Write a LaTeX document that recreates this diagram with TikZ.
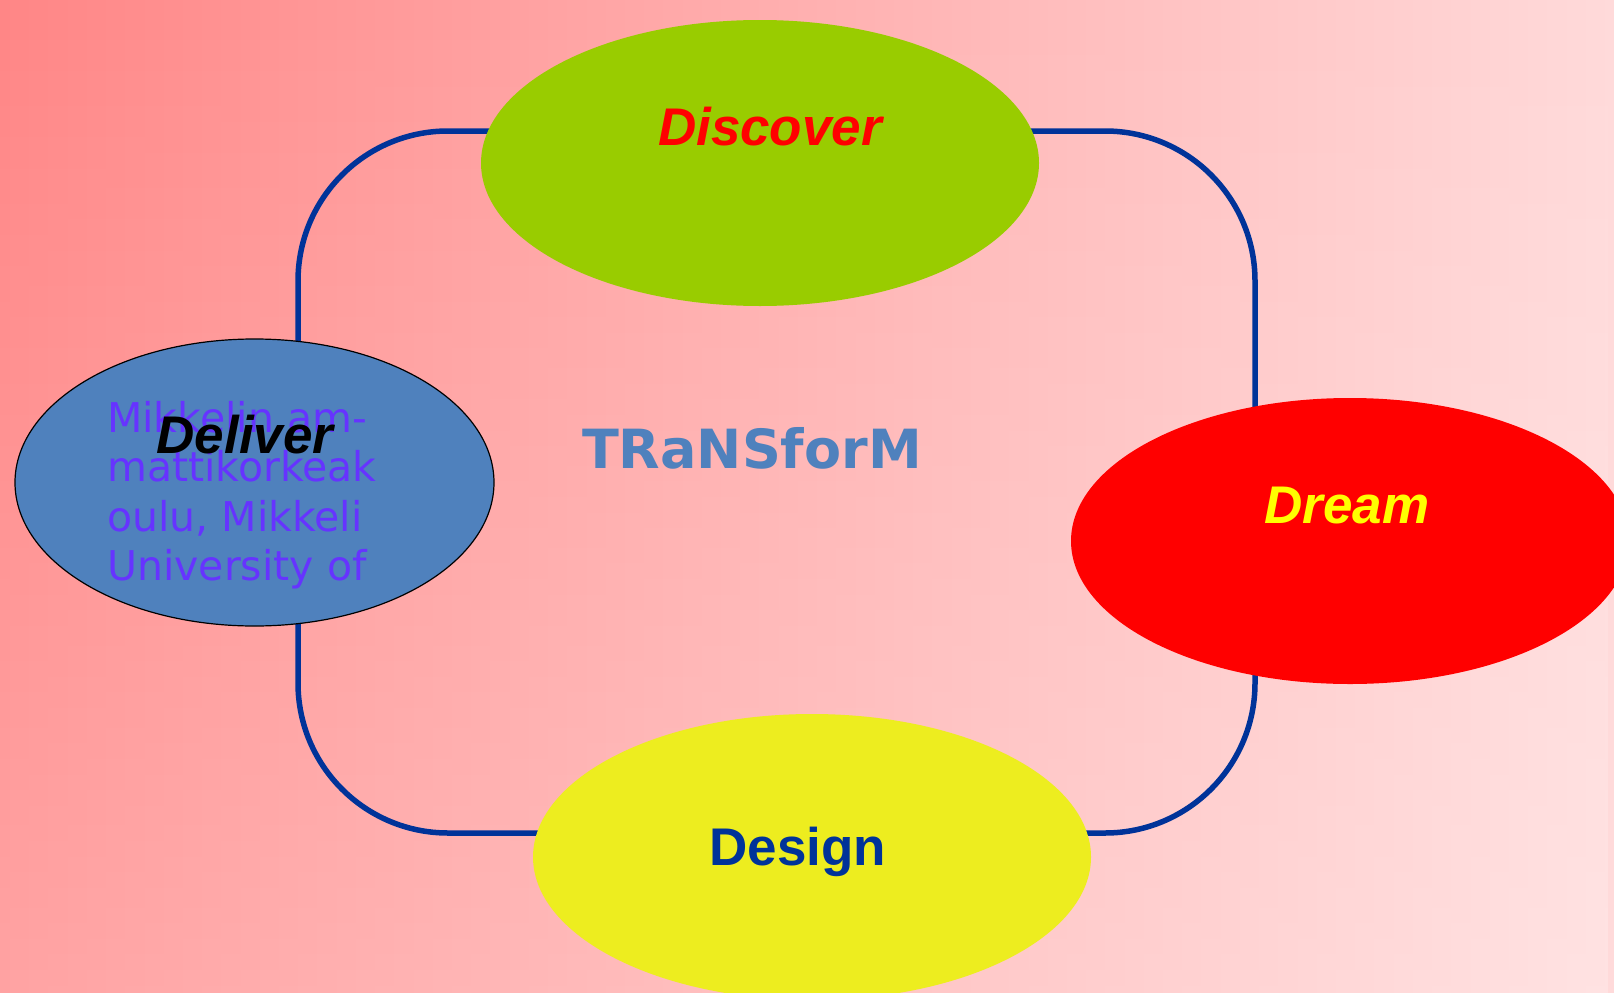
\documentclass[tikz,border=0pt]{standalone}
\usepackage{fontspec}
\usetikzlibrary{shapes.geometric,fadings}
\newfontfamily\headfont{Liberation Sans}
\newfontfamily\notefont{DejaVu Sans}
\newfontfamily\titlefont{DejaVu Sans}
\definecolor{bgdark}{HTML}{FF8686}
\definecolor{bglight}{HTML}{FFDADA}
\definecolor{framecol}{HTML}{003399}
\definecolor{discoverfill}{HTML}{99CC00}
\definecolor{deliverfill}{HTML}{4F81BD}
\definecolor{dreamfill}{HTML}{FF0000}
\definecolor{designfill}{HTML}{EDED1F}
\definecolor{notecol}{HTML}{6633FF}
\definecolor{titlecol}{HTML}{4F81BD}
\definecolor{dreamtext}{HTML}{FFFF00}
\begin{document}
\begin{tikzpicture}[x=1pt,y=-1pt,
  phase/.style={ellipse, inner sep=0pt, minimum width=558pt, minimum height=286pt},
  phasetext/.style={anchor=base, inner sep=0pt, font=\headfont\fontsize{53}{60}\selectfont\bfseries\itshape},
]
\useasboundingbox (0,0) rectangle (1614,993);
\clip (0,0) rectangle (1614,993);
% background: horizontal gradient, lightened towards the bottom
\shade[left color=bgdark, right color=bglight] (0,0) rectangle (1614,993);
\fill[white, fill opacity=0.24, path fading=north] (0,0) rectangle (1614,993);

% cycle frame behind the four phases
\coordinate (ftl) at (298,131);
\coordinate (fbr) at (1255,833);
\draw[framecol, line width=5.5pt, rounded corners=150pt] (ftl) rectangle (fbr);

% phases
\node[phase, fill=discoverfill] (discover) at (760,163) {};
\node[phase, fill=dreamfill] (dream) at (1350,541) {};
\node[phase, fill=designfill] (design) at (812,857) {};
\node[phase, fill=deliverfill, draw=black, line width=1.2pt,
      minimum width=479pt, minimum height=287pt] (deliver) at (254.5,482.5) {};

% institution note
\node[anchor=base west, inner sep=0pt, text=notecol,
      font=\notefont\fontsize{41}{49.5}\selectfont] (note) at (107,432)
  {\vtop{\baselineskip=49.5pt\hbox{Mikkelin am-}\hbox{mattikorkeak}\hbox{oulu, Mikkeli}\hbox{University of}}};

% phase names
\node[phasetext, text=red] (discovertxt) at (770,145) {Discover};
\node[phasetext, text=black] (delivertxt) at (245,453) {Deliver};
\node[phasetext, text=dreamtext] (dreamtxt) at (1347,523) {Dream};
\node[phasetext, text=framecol, font=\headfont\fontsize{53}{60}\selectfont\bfseries] (designtxt) at (798,865) {Design};

% centre title
\node[anchor=base, inner sep=0pt, text=titlecol,
      font=\titlefont\fontsize{54}{60}\selectfont\bfseries] (title) at (752,468) {TRaNSforM};
\end{tikzpicture}
\end{document}
